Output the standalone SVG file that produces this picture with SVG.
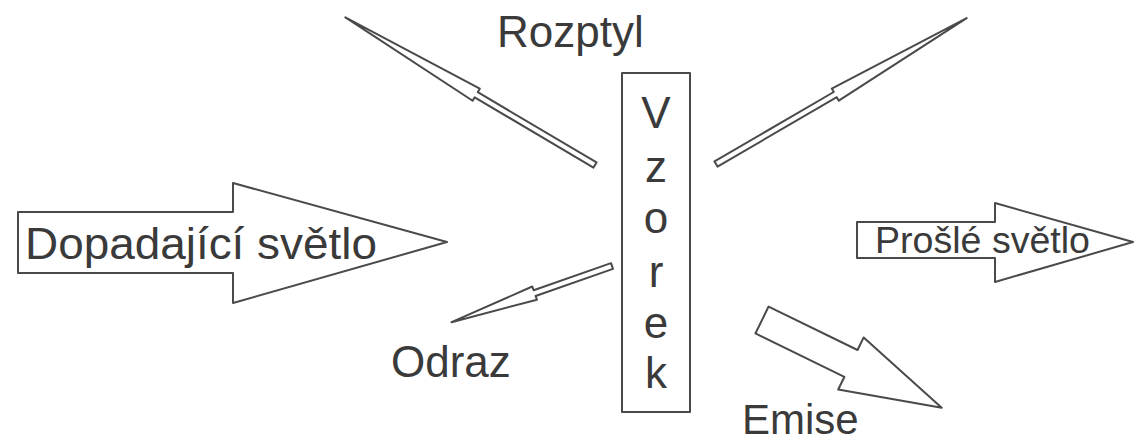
<svg xmlns="http://www.w3.org/2000/svg" width="1136" height="443" viewBox="0 0 1136 443">
  <style>
    .shape { fill: #ffffff; stroke: #4a4a4a; stroke-width: 2; stroke-linejoin: round; }
    .label { font-family: "Liberation Sans", Arial, sans-serif; fill: #3a3a3a; }
    .big { font-size: 44px; }
  </style>
  <defs>
    <!-- slim light-ray arrows, tail at origin, pointing along +x -->
    <path id="ray-long" d="M0,-3 L138,-3 L138,-7 L290,0 L138,7 L138,3 L0,3 Z"/>
    <path id="ray-short" d="M0,-3 L82,-3 L82,-7 L170,0 L82,7 L82,3 L0,3 Z"/>
    <path id="ray-wide" d="M0,-15 L99,-15 L99,-29 L200,0 L99,29 L99,15 L0,15 Z"/>
  </defs>
  <rect width="1136" height="443" fill="#ffffff"/>

  <!-- incident light -->
  <g id="incident">
    <polygon class="shape" points="18,212 233,212 233,183 447,242 233,303 233,273 18,273"/>
    <text class="label" x="25" y="259" font-size="45" textLength="352" lengthAdjust="spacingAndGlyphs">Dopadající světlo</text>
  </g>

  <!-- transmitted light -->
  <g id="transmitted">
    <polygon class="shape" points="857,222 995,222 995,203 1133,242 995,282 995,258 857,258"/>
    <text class="label" x="875" y="253" font-size="37" textLength="215" lengthAdjust="spacingAndGlyphs">Prošlé světlo</text>
  </g>

  <!-- sample -->
  <g id="sample">
    <rect class="shape" x="622" y="73" width="68" height="339"/>
    <g class="label big" text-anchor="middle">
      <text x="656" y="128">V</text>
      <text x="656" y="182">z</text>
      <text x="656" y="233">o</text>
      <text x="656" y="287">r</text>
      <text x="656" y="338">e</text>
      <text x="656" y="388">k</text>
    </g>
  </g>

  <!-- outgoing rays -->
  <g id="connectors">
    <use href="#ray-long" class="shape" transform="translate(595,165) rotate(210.6)"/>
    <use href="#ray-long" class="shape" transform="translate(716,164) rotate(-30.2)"/>
    <use href="#ray-short" class="shape" transform="translate(612,266) rotate(160.7)"/>
    <use href="#ray-wide" class="shape" transform="translate(762,320) rotate(26.05)"/>
  </g>

  <g id="scatter-label">
    <text class="label big" x="497" y="47">Rozptyl</text>
  </g>
  <g id="reflection-label">
    <text class="label big" x="391" y="377">Odraz</text>
  </g>
  <g id="emission-label">
    <text class="label" x="742" y="434" font-size="42">Emise</text>
  </g>
</svg>
